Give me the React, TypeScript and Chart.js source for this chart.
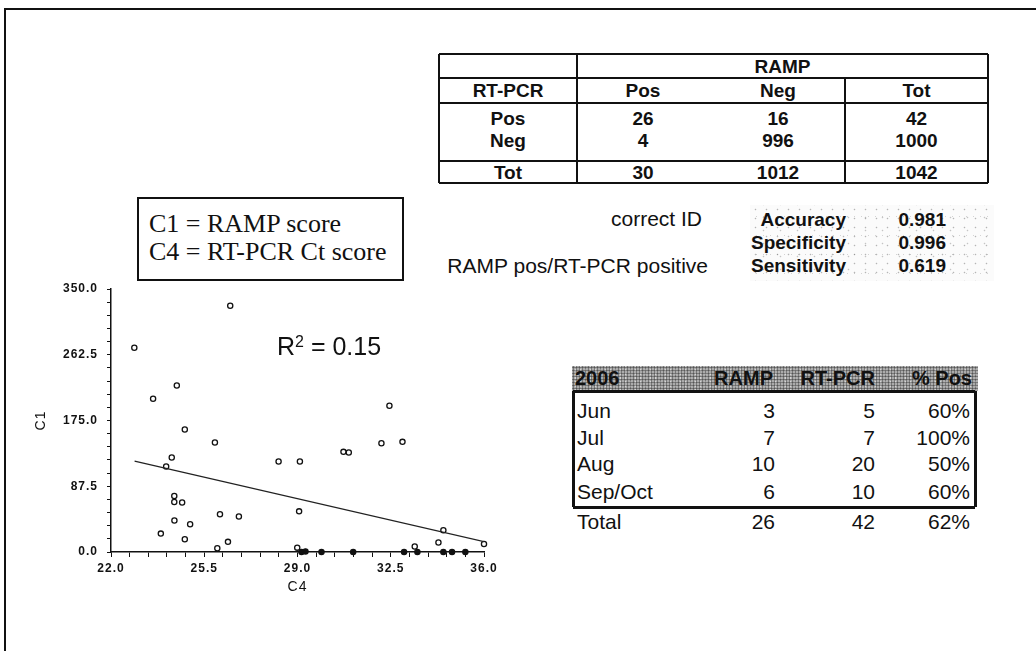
import { useEffect, useRef } from "react";
import { Chart, registerables } from "chart.js";

Chart.register(...registerables);

// ---- scatter: RT-PCR Ct score (C4) vs RAMP score (C1) ----
const c4Scores = [
  26.475, 22.875, 24.47, 23.58, 32.45, 24.77, 25.9, 32.15, 32.94, 30.725, 30.925,
  24.28, 28.29, 29.09, 24.07, 24.375, 24.375, 24.67, 29.06, 26.09, 26.8, 24.38,
  24.97, 34.475, 23.87, 24.77, 26.39, 34.29, 36.0, 33.4, 25.99, 28.99, 29.15,
  29.3, 29.9, 31.09, 33.0, 33.5, 34.475, 34.8, 35.3,
];
const c1Scores = [
  327.8, 271.9, 221.5, 203.9, 194.6, 163.0, 145.7, 144.8, 146.6, 133.3, 132.4,
  125.7, 120.4, 120.4, 113.7, 74.6, 66.6, 65.8, 54.1, 50.2, 47.2, 41.9,
  36.9, 29.0, 24.5, 17.0, 13.5, 12.6, 10.7, 7.3, 4.9, 5.8, 0.0,
  0.8, 0.0, 0.0, 0.0, 0.0, 0.0, 0.0, 0.0,
];
// least-squares trend line end points
const trendC4 = [22.885, 36.0];
const trendC1 = [120.9, 13.8];
const rSquaredText = "0.15";

const xLabelTicks = [22.0, 25.5, 29.0, 32.5, 36.0];
const yLabelTicks = [0.0, 87.5, 175.0, 262.5, 350.0];

// ---- RAMP vs RT-PCR cross table ----
const crossHeader = ["RT-PCR", "Pos", "Neg", "Tot"];
const crossRowNames = ["Pos", "Neg", "Tot"];
const crossPosRow = [26, 16, 42];
const crossNegRow = [4, 996, 1000];
const crossTotRow = [30, 1012, 1042];

// ---- summary statistics ----
const statNames = ["Accuracy", "Specificity", "Sensitivity"];
const statValues = ["0.981", "0.996", "0.619"];

// ---- monthly 2006 table ----
const monthHeader = ["2006", "RAMP", "RT-PCR", "% Pos"];
const months = ["Jun", "Jul", "Aug", "Sep/Oct"];
const rampCounts = [3, 7, 10, 6];
const rtpcrCounts = [5, 7, 20, 10];
const pctPositive = ["60%", "100%", "50%", "60%"];
const monthTotals = ["Total", "26", "42", "62%"];

const INK = "#111";
const SANS = "'Liberation Sans', Arial, Helvetica, sans-serif";
const SERIF = "'Liberation Serif', 'Times New Roman', serif";

type Align = "left" | "center" | "right";

function Txt(props: {
  x: number;
  y: number;
  align?: Align;
  size: number;
  weight?: number;
  family?: string;
  children: any;
}) {
  const { x, y, align = "left", size, weight = 400, family = SANS, children } = props;
  const lh = Math.round(size * 1.2);
  const style: any = {
    position: "absolute",
    top: y - lh / 2,
    lineHeight: `${lh}px`,
    fontSize: size,
    fontWeight: weight,
    fontFamily: family,
    whiteSpace: "nowrap",
    color: INK,
  };
  if (align === "left") style.left = x;
  else if (align === "center") {
    style.left = x - 300;
    style.width = 600;
    style.textAlign = "center";
  } else {
    style.left = x - 600;
    style.width = 600;
    style.textAlign = "right";
  }
  return <div style={style}>{children}</div>;
}

function HLine({ x1, x2, y, w = 2 }: { x1: number; x2: number; y: number; w?: number }) {
  return (
    <div style={{ position: "absolute", left: x1, top: y - w / 2, width: x2 - x1, height: w, background: INK }} />
  );
}

function VLine({ x, y1, y2, w = 2 }: { x: number; y1: number; y2: number; w?: number }) {
  return (
    <div style={{ position: "absolute", left: x - w / 2, top: y1, width: w, height: y2 - y1, background: INK }} />
  );
}

// letter spacing for the axis text of the scatter plot
const spacedText = {
  id: "spacedText",
  beforeUpdate(chart: any) {
    chart.ctx.letterSpacing = "1px";
  },
  beforeDraw(chart: any) {
    chart.ctx.letterSpacing = "1px";
  },
};

function ScatterPlot() {
  const ref = useRef<HTMLCanvasElement | null>(null);

  useEffect(() => {
    if (!ref.current) return;
    const points = c4Scores.map((x, i) => ({ x, y: c1Scores[i] }));
    const trend = trendC4.map((x, i) => ({ x, y: trendC1[i] }));
    const tickFont = { family: SANS, size: 12, weight: "bold" as const };
    const near = (list: number[], v: number) => list.some((t) => Math.abs(t - v) < 1e-6);

    const chart = new Chart(ref.current, {
      type: "scatter",
      data: {
        datasets: [
          {
            type: "line",
            data: trend,
            borderColor: "#222",
            borderWidth: 1.2,
            pointRadius: 0,
            fill: false,
          } as any,
          {
            type: "scatter",
            data: points,
            pointStyle: "circle",
            pointRadius: 2.6,
            borderWidth: 1.3,
            borderColor: INK,
            // markers sitting on the axis read as solid dots
            backgroundColor: (c: any) => (c.raw && c.raw.y < 1 ? INK : "rgba(255,255,255,0)"),
            clip: false,
          } as any,
        ],
      },
      options: {
        animation: false,
        responsive: false,
        maintainAspectRatio: false,
        events: [],
        layout: { padding: { top: 9, right: 24, bottom: 0, left: 0 } },
        plugins: { legend: { display: false }, tooltip: { enabled: false } },
        scales: {
          x: {
            type: "linear",
            min: 22,
            max: 36,
            border: { display: true, color: INK, width: 1.5 },
            grid: { drawOnChartArea: false, drawTicks: true, tickLength: 5, color: INK, lineWidth: 1 },
            ticks: {
              stepSize: 0.7,
              autoSkip: false,
              maxRotation: 0,
              padding: 4,
              color: INK,
              font: tickFont,
              callback: (v: any) => (near(xLabelTicks, Number(v)) ? Number(v).toFixed(1) : ""),
            },
            title: {
              display: true,
              text: "C4",
              color: INK,
              font: { family: SANS, size: 14 },
              padding: { top: 2, bottom: 3 },
            },
            afterFit: (s: any) => {
              s.height = 47;
              s.paddingLeft = 0;
              s.paddingRight = 0;
            },
          },
          y: {
            type: "linear",
            min: 0,
            max: 350,
            border: { display: true, color: INK, width: 1.5 },
            grid: { drawOnChartArea: false, drawTicks: true, tickLength: 4, color: INK, lineWidth: 1 },
            ticks: {
              stepSize: 17.5,
              autoSkip: false,
              padding: 9,
              color: INK,
              font: tickFont,
              callback: (v: any) => (near(yLabelTicks, Number(v)) ? Number(v).toFixed(1) : ""),
            },
            title: {
              display: true,
              text: "C1",
              color: INK,
              font: { family: SANS, size: 14 },
              padding: { top: 3, bottom: 2 },
            },
            afterFit: (s: any) => {
              s.width = 81;
              s.paddingTop = 0;
              s.paddingBottom = 0;
            },
          },
        },
      } as any,
      plugins: [spacedText],
    });
    return () => chart.destroy();
  }, []);

  return (
    <canvas
      ref={ref}
      width={478}
      height={319}
      style={{ position: "absolute", left: 30, top: 280, width: 478, height: 319 }}
    />
  );
}

function CrossTable() {
  const L = 439, R = 988, T = 54, B = 183;
  const colA = 577, colB = 845;
  const cx = [(L + colA) / 2, 643, 778, (colB + R) / 2];
  const rowY = [118, 140, 172];
  const rows = [crossPosRow, crossNegRow, crossTotRow];
  return (
    <>
      <HLine x1={L} x2={R} y={T} w={2.5} />
      <HLine x1={L} x2={R} y={B} w={2.5} />
      <VLine x={L} y1={T} y2={B} w={2.5} />
      <VLine x={R} y1={T} y2={B} w={2.5} />
      <HLine x1={L} x2={R} y={78} />
      <HLine x1={L} x2={R} y={103} />
      <HLine x1={L} x2={R} y={161} />
      <VLine x={colA} y1={T} y2={B} />
      <VLine x={colB} y1={78} y2={B} />
      <Txt x={(colA + R) / 2} y={66} align="center" size={19} weight={700}>
        RAMP
      </Txt>
      {crossHeader.map((h, i) => (
        <Txt key={h} x={cx[i]} y={90.5} align="center" size={19} weight={700}>
          {h}
        </Txt>
      ))}
      {crossRowNames.map((name, r) => (
        <div key={name}>
          <Txt x={cx[0]} y={rowY[r]} align="center" size={19} weight={700}>
            {name}
          </Txt>
          {rows[r].map((v, c) => (
            <Txt key={c} x={cx[c + 1]} y={rowY[r]} align="center" size={19} weight={700}>
              {v}
            </Txt>
          ))}
        </div>
      ))}
    </>
  );
}

function StatsBlock() {
  const ys = [219, 242, 265];
  return (
    <>
      <div
        style={{
          position: "absolute",
          left: 750,
          top: 205,
          width: 244,
          height: 76,
          backgroundColor: "#fbfbfb",
          backgroundImage:
            "radial-gradient(circle, rgba(0,0,0,0.28) 0.6px, transparent 1.1px), radial-gradient(circle, rgba(0,0,0,0.22) 0.6px, transparent 1.1px), radial-gradient(circle, rgba(0,0,0,0.16) 0.5px, transparent 1px)",
          backgroundSize: "11px 9px, 17px 13px, 7px 19px",
          backgroundPosition: "0 0, 5px 6px, 3px 2px",
        }}
      />
      <Txt x={702} y={218} align="right" size={21}>
        correct ID
      </Txt>
      <Txt x={708} y={265} align="right" size={21}>
        RAMP pos/RT-PCR positive
      </Txt>
      {statNames.map((n, i) => (
        <Txt key={n} x={846} y={ys[i]} align="right" size={19} weight={700}>
          {n}
        </Txt>
      ))}
      {statValues.map((v, i) => (
        <Txt key={v} x={946} y={ys[i]} align="right" size={19} weight={700}>
          {v}
        </Txt>
      ))}
    </>
  );
}

function MonthTable() {
  const L = 573, R = 975, T = 391, B = 507;
  const valueRight = [775, 875, 970];
  const rowY = [410.5, 437, 463.5, 491];
  const headerRight = [773, 875, 972];
  return (
    <>
      <div
        style={{
          position: "absolute",
          left: 572,
          top: 366,
          width: 406,
          height: 25,
          backgroundColor: "#ababab",
          backgroundImage:
            "radial-gradient(circle, rgba(0,0,0,0.5) 0.8px, transparent 1.3px), radial-gradient(circle, rgba(255,255,255,0.5) 0.7px, transparent 1.2px)",
          backgroundSize: "3px 3px, 5px 4px",
          backgroundPosition: "0 0, 1px 2px",
        }}
      />
      <Txt x={575} y={378} size={20} weight={700}>
        {monthHeader[0]}
      </Txt>
      {monthHeader.slice(1).map((h, i) => (
        <Txt key={h} x={headerRight[i]} y={378} align="right" size={20} weight={700}>
          {h}
        </Txt>
      ))}
      <HLine x1={L} x2={R} y={T} w={3} />
      <HLine x1={L} x2={R} y={B} w={3} />
      <VLine x={L} y1={T} y2={B} w={3} />
      <VLine x={R} y1={T} y2={B} w={3} />
      {months.map((m, r) => (
        <div key={m}>
          <Txt x={577} y={rowY[r]} size={21}>
            {m}
          </Txt>
          <Txt x={valueRight[0]} y={rowY[r]} align="right" size={21}>
            {rampCounts[r]}
          </Txt>
          <Txt x={valueRight[1]} y={rowY[r]} align="right" size={21}>
            {rtpcrCounts[r]}
          </Txt>
          <Txt x={valueRight[2]} y={rowY[r]} align="right" size={21}>
            {pctPositive[r]}
          </Txt>
        </div>
      ))}
      <Txt x={577} y={521.5} size={21}>
        {monthTotals[0]}
      </Txt>
      {monthTotals.slice(1).map((v, i) => (
        <Txt key={i} x={valueRight[i]} y={521.5} align="right" size={21}>
          {v}
        </Txt>
      ))}
    </>
  );
}

function LegendBox() {
  return (
    <>
      <div
        style={{
          position: "absolute",
          left: 137,
          top: 197,
          width: 267,
          height: 84,
          border: `2px solid ${INK}`,
          boxSizing: "border-box",
        }}
      />
      <Txt x={149} y={223} size={26} family={SERIF}>
        C1 = RAMP score
      </Txt>
      <Txt x={149} y={251} size={26} family={SERIF}>
        C4 = RT-PCR Ct score
      </Txt>
    </>
  );
}

export default function App() {
  useEffect(() => {
    document.body.style.margin = "0";
    document.body.style.overflow = "hidden";
  }, []);

  return (
    <div
      style={{
        position: "absolute",
        left: 0,
        top: 0,
        width: 1036,
        height: 651,
        background: "#fff",
        overflow: "hidden",
        fontFamily: SANS,
      }}
    >
      {/* page frame */}
      <HLine x1={4} x2={1036} y={9} w={2} />
      <VLine x={5} y1={8} y2={651} w={2} />

      <CrossTable />
      <StatsBlock />
      <LegendBox />
      <MonthTable />

      <ScatterPlot />

      <div
        style={{
          position: "absolute",
          left: 277,
          top: 346 - 15,
          lineHeight: "30px",
          fontSize: 25,
          fontFamily: SANS,
          color: INK,
          whiteSpace: "nowrap",
        }}
      >
        R<span style={{ fontSize: 16, position: "relative", top: -8 }}>2</span> = {rSquaredText}
      </div>
    </div>
  );
}
